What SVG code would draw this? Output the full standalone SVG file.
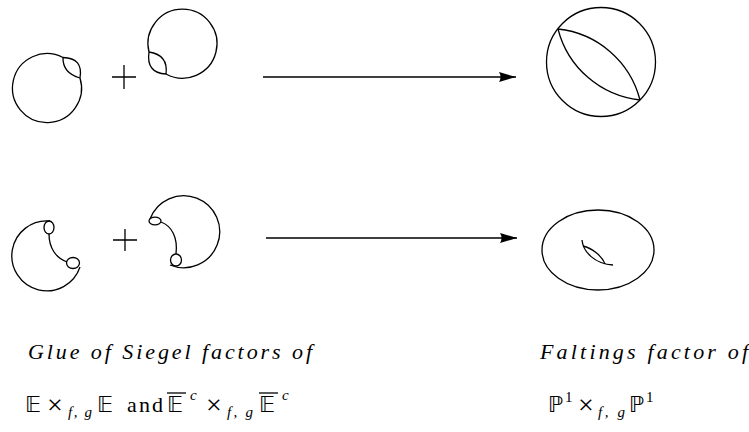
<svg xmlns="http://www.w3.org/2000/svg" width="749" height="432" viewBox="0 0 749 432">
<defs>
<style>
.s{fill:none;stroke:#000;stroke-width:1.3}
.it{font-family:"Liberation Serif","DejaVu Serif",serif;font-style:italic;fill:#000}
.rm{font-family:"Liberation Serif","DejaVu Serif",serif;fill:#000}
.bb{font-family:"DejaVu Sans","DejaVu Serif",sans-serif;fill:#000}
.op{font-family:"Liberation Serif",serif;fill:#000}
</style>
<marker id="ah" markerUnits="userSpaceOnUse" markerWidth="20" markerHeight="12" refX="17" refY="5" orient="auto">
<path d="M0,0 L17,5 L0,10 Q3,5 0,0 Z" fill="#000"/>
</marker>
</defs>
<rect width="749" height="432" fill="#fff"/>
<g id="top-left-sphere">
<path class="s" d="M80,78 A34.5,34.5 0 1 1 63,57.5 Q83.5,58 80,78"/>
<path class="s" d="M63,57.5 Q62.5,73 80,78"/>
</g>
<g id="top-plus">
<path class="s" d="M112,77 H136 M124,65 V89"/>
</g>
<g id="top-right-sphere">
<path class="s" d="M149,52 A34.5,34.5 0 1 1 166,74 Q146,73 149,52"/>
<path class="s" d="M149,52 Q168.5,55 166,74"/>
</g>
<g id="faltings-sphere">
<circle class="s" cx="601" cy="62" r="54.5"/>
<path class="s" d="M558,29 A95,95 0 0 1 640,100"/>
<path class="s" d="M558,29 A95,95 0 0 0 640,100"/>
</g>
<g id="bottom-left-piece">
<path class="s" d="M80,267 A35,35 0 1 1 50,221"/>
<ellipse class="s" cx="49" cy="227.5" rx="5" ry="6.5"/>
<path class="s" d="M49,234 C49,248 56,258 67,262"/>
<ellipse class="s" cx="73" cy="263" rx="6.5" ry="5.5"/>
</g>
<g id="bottom-plus">
<path class="s" d="M113,240 H137 M125,229 V251"/>
</g>
<g id="bottom-right-piece">
<path class="s" d="M150,219 A36,36 0 1 1 170,265"/>
<ellipse class="s" cx="155" cy="221" rx="6" ry="3.8"/>
<path class="s" d="M161,222 C172,226 178,238 176,254"/>
<ellipse class="s" cx="176" cy="260" rx="5.5" ry="6"/>
</g>
<g id="torus">
<ellipse class="s" cx="598" cy="250" rx="56" ry="40"/>
<path class="s" d="M582,240 C583,252 595,264 613,265"/>
<path class="s" d="M583,246 C592,248 602,256 605,264"/>
</g>
<g id="connectors">
<line class="s" x1="263" y1="77" x2="516" y2="77" marker-end="url(#ah)"/>
<line class="s" x1="266" y1="238" x2="517" y2="238" marker-end="url(#ah)"/>
</g>
<g id="label-left">
<text class="it" x="28" y="359" font-size="22" textLength="284" lengthAdjust="spacing">Glue of Siegel factors of</text>
<text class="bb" x="25" y="412" font-size="22">𝔼</text>
<text class="op" x="47" y="414" font-size="28">×</text>
<text class="it" x="68" y="417" font-size="15" textLength="24" lengthAdjust="spacing">f, g</text>
<text class="bb" x="97" y="412" font-size="22">𝔼</text>
<text class="rm" x="127" y="412" font-size="22" textLength="36" lengthAdjust="spacing">and</text>
<text class="bb" x="167" y="412" font-size="22">𝔼</text>
<line x1="167" y1="393" x2="186" y2="393" stroke="#000" stroke-width="1.3"/>
<text class="it" x="190" y="400" font-size="15">c</text>
<text class="op" x="206" y="414" font-size="28">×</text>
<text class="it" x="227" y="417" font-size="15" textLength="26" lengthAdjust="spacing">f, g</text>
<text class="bb" x="259" y="412" font-size="22">𝔼</text>
<line x1="259" y1="393" x2="278" y2="393" stroke="#000" stroke-width="1.3"/>
<text class="it" x="282" y="400" font-size="15">c</text>
</g>
<g id="label-right">
<text class="it" x="540" y="359" font-size="22" textLength="208" lengthAdjust="spacing">Faltings factor of</text>
<text class="bb" x="548" y="412" font-size="22">ℙ</text>
<text class="rm" x="565" y="402" font-size="15">1</text>
<text class="op" x="578" y="414" font-size="28">×</text>
<text class="it" x="598" y="417" font-size="15" textLength="27" lengthAdjust="spacing">f, g</text>
<text class="bb" x="629" y="412" font-size="22">ℙ</text>
<text class="rm" x="646" y="402" font-size="15">1</text>
</g>
</svg>
